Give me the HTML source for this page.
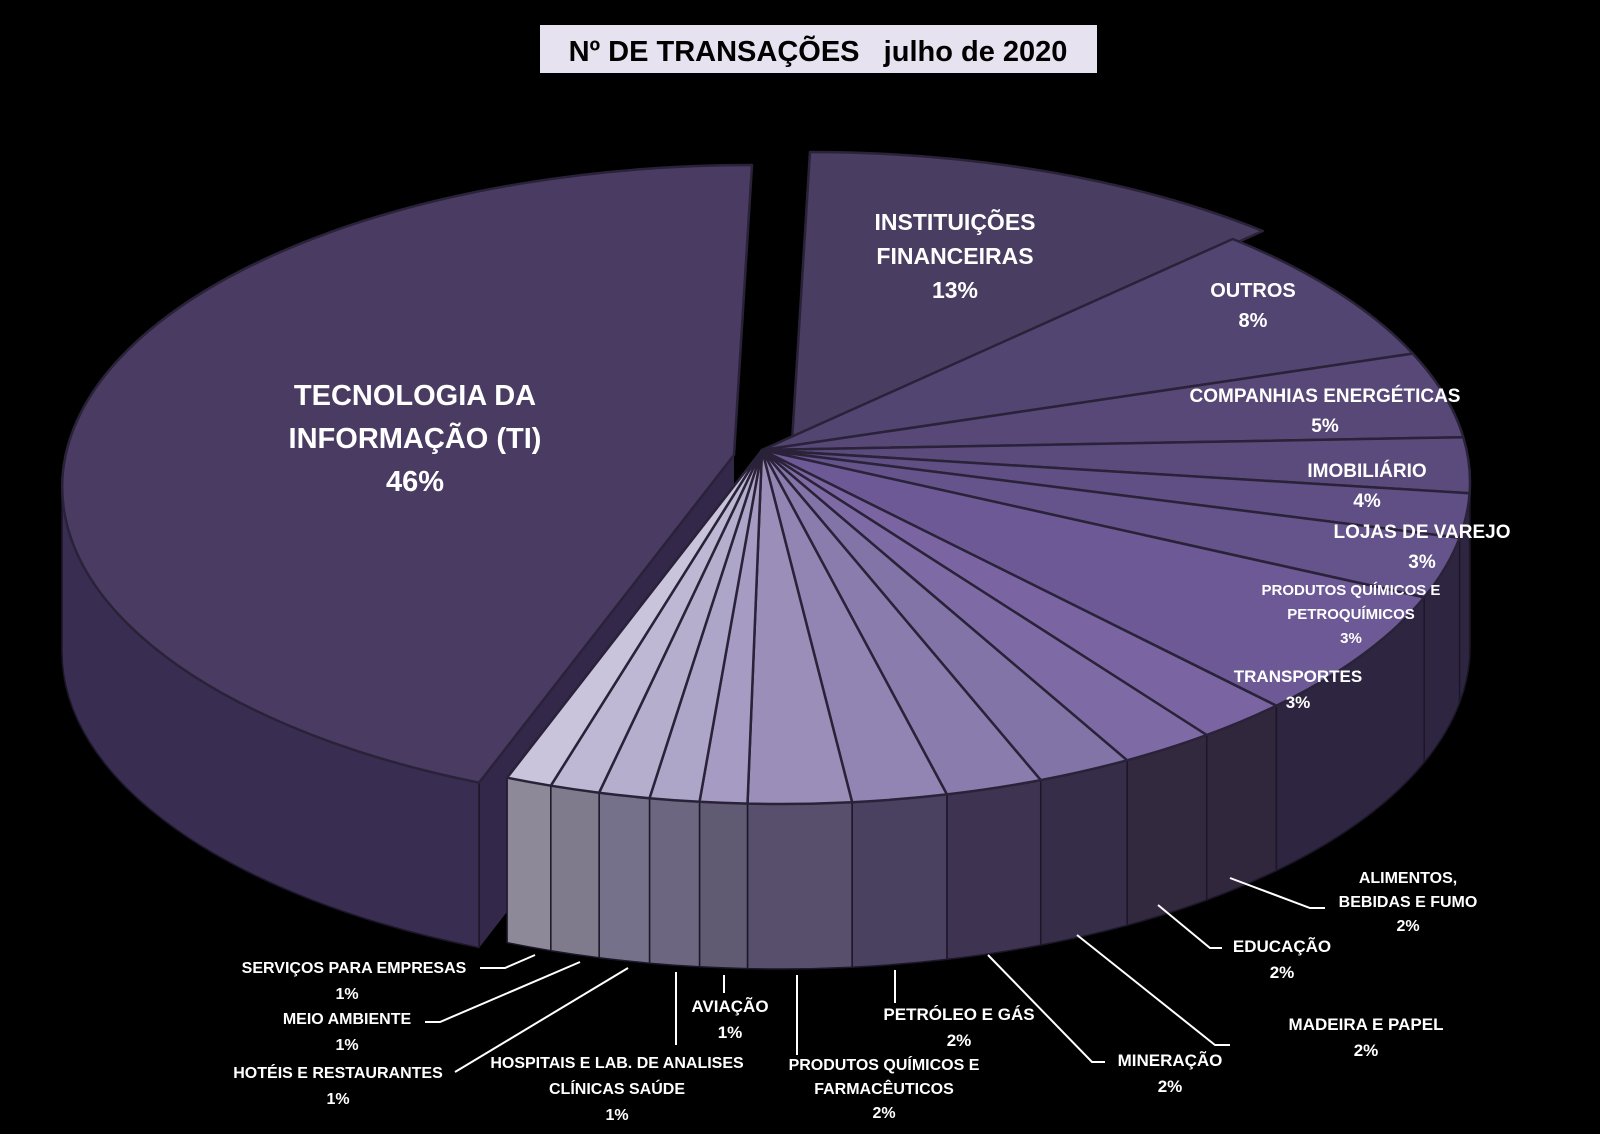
<!DOCTYPE html>
<html><head><meta charset="utf-8"><style>
html,body{margin:0;padding:0;background:#000;}
svg{display:block}
text{font-family:"Liberation Sans",sans-serif;font-weight:bold;fill:#fff;text-anchor:middle}
</style></head><body>
<svg id="s" width="1600" height="1134" viewBox="0 0 1600 1134" xmlns="http://www.w3.org/2000/svg">
<rect width="1600" height="1134" fill="#000"/>
<g id="pie"></g>
<g stroke="#fff" stroke-width="2" fill="none">
<polyline points="535,955 505,968 480,968"/>
<polyline points="580,962 440,1022 425,1022"/>
<polyline points="628,968 475,1060 455,1072"/>
<line x1="676" y1="972" x2="676" y2="1045"/>
<line x1="724" y1="975" x2="724" y2="993"/>
<line x1="797" y1="975" x2="797" y2="1055"/>
<line x1="895" y1="970" x2="895" y2="1003"/>
<polyline points="988,955 1092,1062 1105,1062"/>
<polyline points="1077,935 1215,1045 1230,1045"/>
<polyline points="1158,905 1210,948 1222,948"/>
<polyline points="1230,878 1310,908 1325,908"/>
</g>
<rect x="540" y="25" width="557" height="48" fill="#e7e2ef"/>
<text x="818" y="61" style="font-size:29px;fill:#000">Nº DE TRANSAÇÕES&#160;&#160; julho de 2020</text>
<text x="415" y="405" style="font-size:29px">TECNOLOGIA DA</text>
<text x="415" y="448" style="font-size:29px">INFORMAÇÃO (TI)</text>
<text x="415" y="491" style="font-size:29px">46%</text>
<text x="955" y="230" style="font-size:23px">INSTITUIÇÕES</text>
<text x="955" y="264" style="font-size:23px">FINANCEIRAS</text>
<text x="955" y="298" style="font-size:23px">13%</text>
<text x="1253" y="297" style="font-size:20px">OUTROS</text>
<text x="1253" y="327" style="font-size:20px">8%</text>
<text x="1325" y="402" style="font-size:19px">COMPANHIAS ENERGÉTICAS</text>
<text x="1325" y="432" style="font-size:19px">5%</text>
<text x="1367" y="477" style="font-size:19px">IMOBILIÁRIO</text>
<text x="1367" y="507" style="font-size:19px">4%</text>
<text x="1422" y="538" style="font-size:19px">LOJAS DE VAREJO</text>
<text x="1422" y="568" style="font-size:19px">3%</text>
<text x="1351" y="595" style="font-size:15px">PRODUTOS QUÍMICOS E</text>
<text x="1351" y="619" style="font-size:15px">PETROQUÍMICOS</text>
<text x="1351" y="643" style="font-size:15px">3%</text>
<text x="1298" y="682" style="font-size:17px">TRANSPORTES</text>
<text x="1298" y="708" style="font-size:17px">3%</text>
<text x="1408" y="883" style="font-size:16px">ALIMENTOS,</text>
<text x="1408" y="907" style="font-size:16px">BEBIDAS E FUMO</text>
<text x="1408" y="931" style="font-size:16px">2%</text>
<text x="1282" y="952" style="font-size:17px">EDUCAÇÃO</text>
<text x="1282" y="978" style="font-size:17px">2%</text>
<text x="1366" y="1030" style="font-size:17px">MADEIRA E PAPEL</text>
<text x="1366" y="1056" style="font-size:17px">2%</text>
<text x="1170" y="1066" style="font-size:17px">MINERAÇÃO</text>
<text x="1170" y="1092" style="font-size:17px">2%</text>
<text x="959" y="1020" style="font-size:17px">PETRÓLEO E GÁS</text>
<text x="959" y="1046" style="font-size:17px">2%</text>
<text x="884" y="1070" style="font-size:16px">PRODUTOS QUÍMICOS E</text>
<text x="884" y="1094" style="font-size:16px">FARMACÊUTICOS</text>
<text x="884" y="1118" style="font-size:16px">2%</text>
<text x="730" y="1012" style="font-size:17px">AVIAÇÃO</text>
<text x="730" y="1038" style="font-size:17px">1%</text>
<text x="617" y="1068" style="font-size:16px">HOSPITAIS E LAB. DE ANALISES</text>
<text x="617" y="1094" style="font-size:16px">CLÍNICAS SAÚDE</text>
<text x="617" y="1120" style="font-size:16px">1%</text>
<text x="354" y="973" style="font-size:16px">SERVIÇOS PARA EMPRESAS</text>
<text x="347" y="999" style="font-size:16px">1%</text>
<text x="347" y="1024" style="font-size:16px">MEIO AMBIENTE</text>
<text x="347" y="1050" style="font-size:16px">1%</text>
<text x="338" y="1078" style="font-size:16px">HOTÉIS E RESTAURANTES</text>
<text x="338" y="1104" style="font-size:16px">1%</text>
</svg>
<script>
(function(){
var cx=780,cy=482,rx=690,ry=322,D=165,ax=762,ay=450;
var sl=[
[41,"#4a3d62","#3a2f50",30,-8],
[66.5,"#534571","#2e2540",0,0],
[82,"#574878","#2e2540",0,0],
[92,"#5b4b7d","#2e2540",0,0],
[100,"#5f4f84","#2e2540",0,0],
[111,"#65538b","#2e2540",0,0],
[134,"#6c5995","#2e2540",0,0],
[141.8,"#7a65a2","#30273d",0,0],
[149.8,"#7e6ba5","#33293f",0,0],
[157.8,"#8374a8","#362d48",0,0],
[166,"#8b7cae","#3e3452",0,0],
[174,"#9385b3","#4a4060",0,0],
[182.7,"#9b8fb9","#574f6c",0,0],
[186.7,"#a69bc2","#605a72",0,0],
[190.9,"#aea6c8","#6c6680",0,0],
[195.2,"#b5aecd","#76718a",0,0],
[199.4,"#bfb8d4","#807b8c",0,0],
[203.3,"#c9c3dc","#8d8998",0,0],
[360,"#4a3b62","#3a2d52",-28,5]];
function P(t,dx,dy){var r=t*Math.PI/180;return [cx+dx+rx*Math.sin(r),cy+dy-ry*Math.cos(r)];}
function f(p){return p[0].toFixed(1)+","+p[1].toFixed(1);}
var g=document.getElementById("pie"),ns="http://www.w3.org/2000/svg";
function add(d,fill,st,sw){var e=document.createElementNS(ns,"path");e.setAttribute("d",d);e.setAttribute("fill",fill);if(st){e.setAttribute("stroke",st);e.setAttribute("stroke-width",sw||2);e.setAttribute("stroke-linejoin","round");}g.appendChild(e);}
var a=0,segs=[];
sl.forEach(function(s){var b=s[0];segs.push([a,b,s]);a=b;});
var ti=segs[18],dx=ti[2][3],dy=ti[2][4];
var c0=[ax+dx,ay+dy],e0=P(ti[0],dx,dy);
add("M"+f(c0)+"L"+f(e0)+"L"+f([e0[0],e0[1]+D])+"L"+f([c0[0],c0[1]+D])+"Z","#33284a");
segs.forEach(function(sg){
 var t1=Math.max(sg[0],90),t2=Math.min(sg[1],270);if(t2<=t1)return;
 var s=sg[2],dx=s[3],dy=s[4];
 var p1=P(t1,dx,dy),p2=P(t2,dx,dy);
 var la=(t2-t1)>180?1:0;
 var d="M"+f(p1)+"A"+rx+","+ry+" 0 "+la+" 1 "+f(p2)+"L"+f([p2[0],p2[1]+D])+"A"+rx+","+ry+" 0 "+la+" 0 "+f([p1[0],p1[1]+D])+"Z";
 add(d,s[2],"#1c1628",1.5);
});
segs.forEach(function(sg){
 var s=sg[2],dx=s[3],dy=s[4];
 var c=[ax+dx,ay+dy],p1=P(sg[0],dx,dy),p2=P(sg[1],dx,dy);
 var la=(sg[1]-sg[0])>180?1:0;
 add("M"+f(c)+"L"+f(p1)+"A"+rx+","+ry+" 0 "+la+" 1 "+f(p2)+"Z",s[1],"#2a2238",2.5);
});
})();
</script>
</body></html>
